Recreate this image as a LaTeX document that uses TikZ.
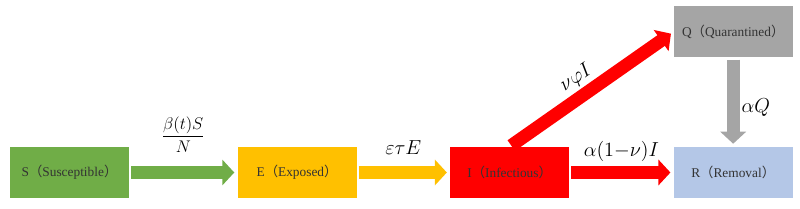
\documentclass[tikz,border=0pt]{standalone}
\usepackage{fontspec}
\newfontfamily\boxfont{Liberation Serif}
\newfontfamily\cjk{Noto Sans CJK SC}
\usepackage{amsmath}
\usetikzlibrary{positioning, arrows.meta}
\definecolor{sgreen}{HTML}{70AD47}
\definecolor{eyellow}{HTML}{FFC000}
\definecolor{ired}{HTML}{FF0000}
\definecolor{qgray}{HTML}{A5A5A5}
\definecolor{rblue}{HTML}{B4C7E7}
\newcommand{\compart}[2]{#1{\cjk （}#2{\cjk ）}}

\begin{document}
\begin{tikzpicture}[
  font=\fontsize{9.5}{11}\selectfont\boxfont,
  compbox/.style={minimum width=2.975cm, minimum height=1.275cm,
    inner sep=0pt, text=black!80},
  flow/.style={line width=3.25mm, -{Triangle[length=3mm, width=6.3mm]},
    shorten <=0.5mm, shorten >=0.75mm},
  rate/.style={font=\Large, text=black, inner sep=0pt, outer sep=0pt}
]
  \useasboundingbox (0,0) rectangle (20,-5.225);

  \node[compbox, fill=sgreen] (s) at (1.7375,-4.3125) {\compart{S}{Susceptible}};
  \node[compbox, fill=eyellow, right=2.7cm of s] (e) {\compart{E}{Exposed}};
  \node[compbox, fill=ired, right=2.325cm of e] (i) {\compart{I}{Infectious}};
  \node[compbox, fill=rblue, right=2.6cm of i] (r) {\compart{R}{Removal}};
  \node[compbox, fill=qgray, above=2.225cm of r] (q) {\compart{Q}{Quarantined}};

  \draw[flow, sgreen] (s) -- node[rate, font=\large, above=5.1mm] (lse) {$\dfrac{\beta(t)S}{N}$} (e);
  \draw[flow, eyellow] (e) -- node[rate, anchor=base, yshift=4.4mm] (lei) {$\varepsilon\tau E$} (i);
  \draw[flow, ired] (i) -- node[rate, anchor=base, yshift=3.9mm] (lir) {$\alpha(1{-}\nu)I$} (r);
  \draw[flow, ired] (i.north) -- node[rate, sloped, pos=0.47, above=2.3mm] (liq) {$\nu\varphi I$} (q.west);
  \draw[flow, qgray] (q) -- node[rate, anchor=base west, xshift=2.1mm, yshift=-2.6mm] (lqr) {$\alpha Q$} (r);
\end{tikzpicture}
\end{document}
